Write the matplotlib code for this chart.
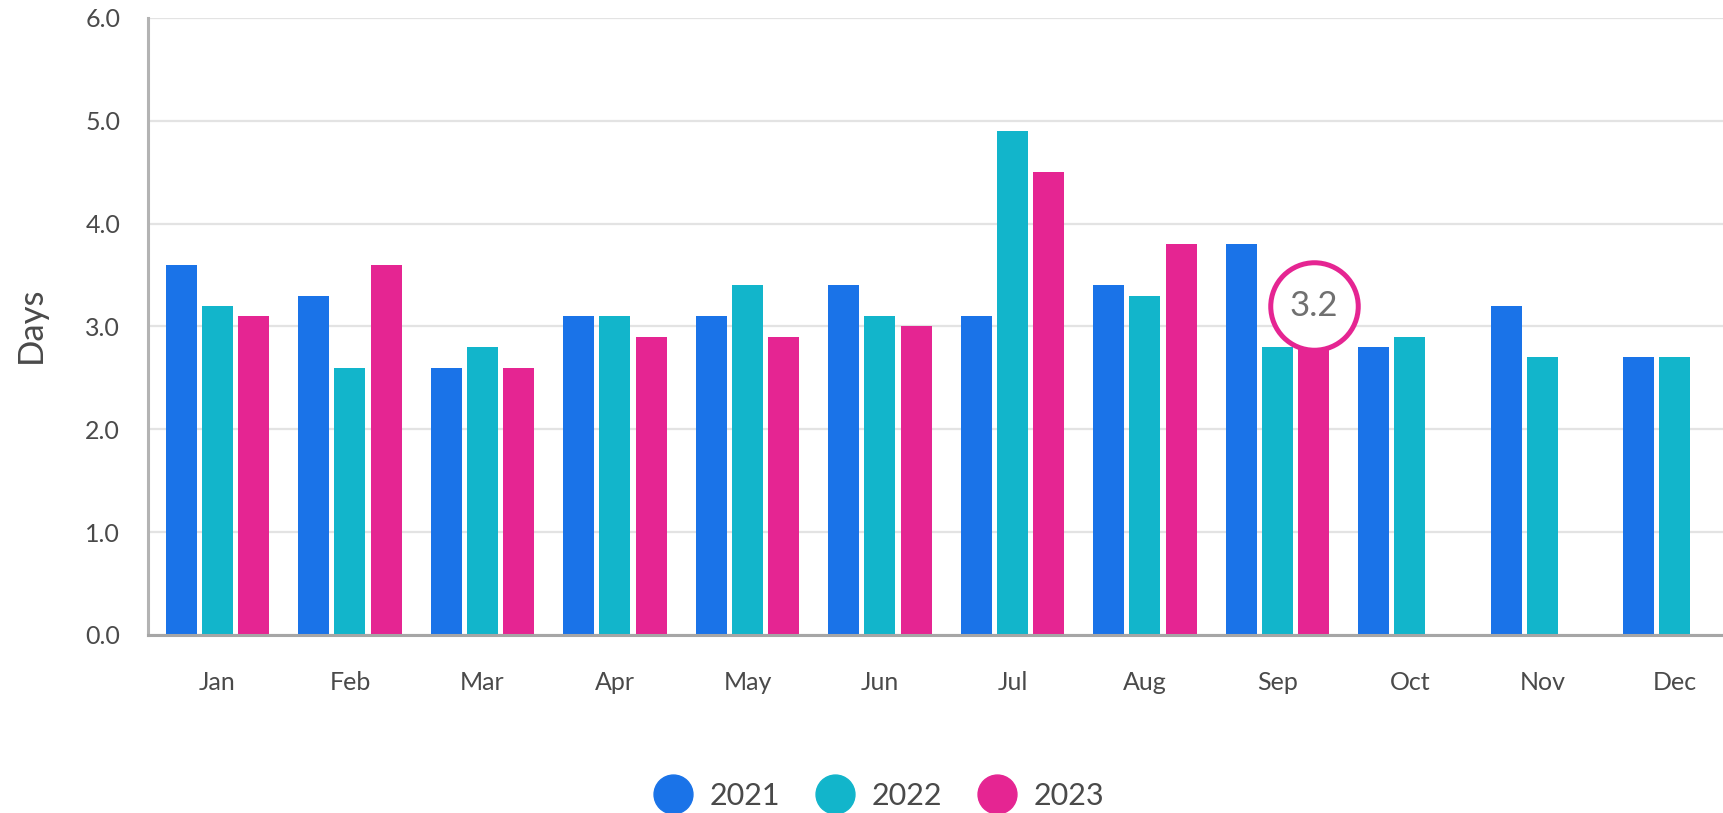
import numpy as np
import matplotlib
matplotlib.use("Agg")
import matplotlib.pyplot as plt
from matplotlib.lines import Line2D

plt.rcParams['font.family'] = ['Lato', 'DejaVu Sans']

# data
months = ['Jan', 'Feb', 'Mar', 'Apr', 'May', 'Jun', 'Jul', 'Aug', 'Sep', 'Oct', 'Nov', 'Dec']
years = ['2021', '2022', '2023']
d2021 = [3.6, 3.3, 2.6, 3.1, 3.1, 3.4, 3.1, 3.4, 3.8, 2.8, 3.2, 2.7]
d2022 = [3.2, 2.6, 2.8, 3.1, 3.4, 3.1, 4.9, 3.3, 2.8, 2.9, 2.7, 2.7]
d2023 = [3.1, 3.6, 2.6, 2.9, 2.9, 3.0, 4.5, 3.8, 3.2]
colors = ['#1a73e8', '#12b5cb', '#e52592']
highlight_month = 8
highlight_value = 3.2

txt = '#4a4a4a'

fig = plt.figure(figsize=(17.24, 8.13), dpi=100)
ax = fig.add_axes([0.0858, 0.219, 0.9142, 0.759])

x = np.arange(len(months))
w = 0.234
step = 0.272
for i, (vals, c) in enumerate(zip([d2021, d2022, d2023], colors)):
    xs = x[:len(vals)] + (i - 1) * step
    ax.bar(xs, vals, width=w, color=c, zorder=3)

# highlighted value bubble
hx = highlight_month + step
ax.plot(hx, highlight_value, marker='o', ms=63, mfc='white', mec=colors[2],
        mew=3.6, zorder=5, clip_on=False)
ax.text(hx, highlight_value, '3.2', ha='center', va='center', fontsize=25,
        color='#707070', zorder=6)

ax.set_ylim(0, 6)
ax.set_xlim(-0.525, 11.37)
ax.set_yticks(np.arange(0, 6.1, 1.0))
ax.set_yticklabels([f'{v:.1f}' for v in np.arange(0, 6.1, 1.0)])
ax.set_xticks(x)
ax.set_xticklabels(months)
ax.tick_params(axis='both', length=0, labelsize=18, labelcolor=txt)
ax.tick_params(axis='y', pad=20)
ax.tick_params(axis='x', pad=26)
ax.grid(axis='y', color='#e3e3e3', lw=1.6, zorder=0)
ax.set_axisbelow(True)

for s in ['top', 'right']:
    ax.spines[s].set_visible(False)
ax.spines['left'].set_color('#b3b3b3')
ax.spines['left'].set_linewidth(2.2)
ax.spines['bottom'].set_color('#a6a6a6')
ax.spines['bottom'].set_linewidth(2.2)
ax.spines['bottom'].set_zorder(4)

fig.text(0.018, 0.601, 'Days', rotation=90, ha='center', va='center',
         fontsize=25, color=txt)

handles = [Line2D([], [], ls='', marker='o', ms=28, color=c) for c in colors]
fig.legend(handles, years, loc='center', bbox_to_anchor=(0.51, 0.021), ncol=3,
           frameon=False, fontsize=22, labelcolor=txt, handlelength=1.2,
           handletextpad=0.6, columnspacing=1.2, borderaxespad=0)

fig.savefig('out.png', dpi=100)
